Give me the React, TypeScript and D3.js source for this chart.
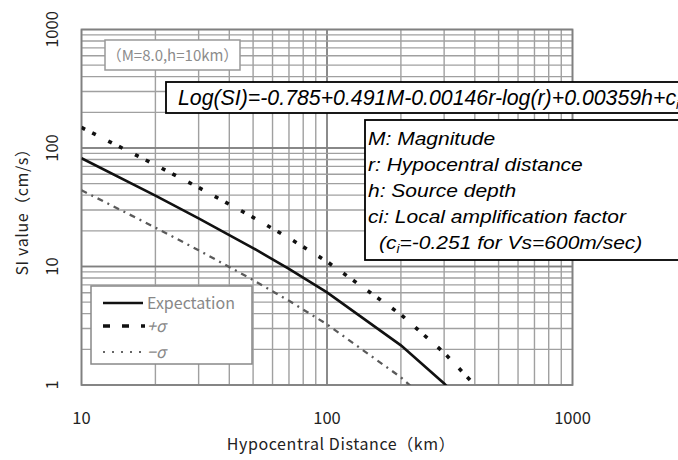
import React from "react";
import * as d3 from "d3";

const W = 678;
const H = 460;

// distances (km)
const distExp = [10, 20, 30, 50, 70, 100, 200, 300, 400];
const expectation = [82, 39.6, 25.5, 14.3, 9.56, 6.05, 2.16, 1.03, 0.55];

const distPlus = [10, 20, 30, 50, 70, 100, 200, 300, 400];
const plusSigma = [149, 72, 46.4, 26, 17.4, 11, 3.93, 1.87, 1.0];

const distMinus = [10, 20, 30, 50, 70, 100, 200, 300];
const minusSigma = [44, 21.3, 13.7, 7.7, 5.14, 3.25, 1.16, 0.55];

const xTicks = [10, 100, 1000];
const yTicks = [1, 10, 100, 1000];

const formulaText = "Log(SI)=-0.785+0.491M-0.00146r-log(r)+0.00359h+c";
const noteLines = [
  "M: Magnitude",
  "r: Hypocentral distance",
  "h: Source depth",
  "ci: Local amplification factor",
];
const conditionText = "（M=8.0,h=10km）";
const legendLabels = ["Expectation", "+σ", "−σ"];
const xTitle = "Hypocentral Distance（km）";
const yTitle = "SI value（cm/s）";

const JP = '"Noto Sans CJK JP", "Noto Sans", sans-serif';
const SANS = '"Liberation Sans", Arial, sans-serif';

export default function App() {
  const left = 81.5, right = 572.5, top = 29.5, bottom = 385;
  const x = d3.scaleLog().domain([10, 1000]).range([left, right]);
  const y = d3.scaleLog().domain([1, 1000]).range([bottom, top]);

  const gridX: number[] = [];
  for (const d of [10, 100]) for (let k = 1; k <= 10; k++) gridX.push(d * k);
  const gridY: number[] = [];
  for (const d of [1, 10, 100]) for (let k = 1; k <= 10; k++) gridY.push(d * k);

  const line = d3
    .line<[number, number]>()
    .x((d) => x(d[0]))
    .y((d) => y(d[1]));

  const expPts = distExp.map((r, i) => [r, expectation[i]] as [number, number]);
  const plusPts = distPlus.map((r, i) => [r, plusSigma[i]] as [number, number]);
  const minusPts = distMinus.map((r, i) => [r, minusSigma[i]] as [number, number]);

  const grid = "#a0a0a0";

  const plusDash = "4,8,4,14";
  const minusDash = "6,5,2,5";

  const legY = [303, 326, 352];

  return (
    <svg
      width={W}
      height={H}
      style={{ position: "absolute", left: 0, top: 0, background: "#fff" }}
    >
      <defs>
        <clipPath id="plotclip">
          <rect x={left} y={top} width={right - left} height={bottom - top} />
        </clipPath>
      </defs>
      <rect x={0} y={0} width={W} height={H} fill="#fff" />

      {/* grid */}
      {gridX.map((v, i) => (
        <line
          key={"gx" + i}
          x1={x(v)}
          x2={x(v)}
          y1={top}
          y2={bottom}
          stroke={v === 100 ? "#808080" : grid}
          strokeWidth={1.4}
        />
      ))}
      {gridY.map((v, i) => (
        <line
          key={"gy" + i}
          x1={left}
          x2={right}
          y1={y(v)}
          y2={y(v)}
          stroke={v === 10 || v === 100 ? "#808080" : grid}
          strokeWidth={1.4}
        />
      ))}
      <rect
        x={left}
        y={top}
        width={right - left}
        height={bottom - top}
        fill="none"
        stroke="#808080"
        strokeWidth={1.8}
      />

      {/* curves */}
      <g clipPath="url(#plotclip)">
        <path
          d={line(minusPts) || ""}
          fill="none"
          stroke="#5a5a5a"
          strokeWidth={2.3}
          strokeDasharray={minusDash}
        />
        <path
          d={line(plusPts) || ""}
          fill="none"
          stroke="#111"
          strokeWidth={3.6}
          strokeDasharray={plusDash}
        />
        <path d={line(expPts) || ""} fill="none" stroke="#111" strokeWidth={2.6} />
      </g>

      {/* condition box */}
      <rect x={105} y={40} width={135} height={30} fill="#fff" stroke="#999" strokeWidth={1.5} />
      <text x={172.5} y={60.5} textAnchor="middle" fontFamily={JP} fontSize={15} fill="#8c8c8c">
        {conditionText}
      </text>

      {/* legend */}
      <rect x={91} y={286} width={161} height={78} fill="#fff" stroke="#888" strokeWidth={1.5} />
      <line x1={103} x2={143} y1={legY[0]} y2={legY[0]} stroke="#111" strokeWidth={2.6} />
      <line
        x1={103}
        x2={145}
        y1={legY[1]}
        y2={legY[1]}
        stroke="#111"
        strokeWidth={3.5}
        strokeDasharray="7,12"
      />
      <line
        x1={103}
        x2={146}
        y1={legY[2]}
        y2={legY[2]}
        stroke="#666"
        strokeWidth={2.2}
        strokeDasharray="2,7"
      />
      {legendLabels.map((t, i) => (
        <text
          key={"lg" + i}
          x={147}
          y={legY[i] + 5.5}
          fontFamily={JP}
          fontSize={16}
          fill="#888"
          fontStyle={i > 0 ? "italic" : "normal"}
        >
          {t}
        </text>
      ))}

      {/* formula box */}
      <rect x={166} y={82} width={540} height={31} fill="#fff" stroke="#000" strokeWidth={1.8} />
      <text x={178} y={105} fontFamily={SANS} fontStyle="italic" fontSize={21.3} fill="#000">
        {formulaText}
        <tspan fontSize={13} dy={4}>i</tspan>
      </text>

      {/* note box */}
      <rect x={365} y={120} width={340} height={140} fill="#fff" stroke="#000" strokeWidth={1.8} />
      {noteLines.map((t, i) => (
        <text
          key={"nt" + i}
          transform={`translate(368,${145 + i * 26}) scale(1.13,1)`}
          fontFamily={SANS}
          fontStyle="italic"
          fontSize={18.6}
          fill="#000"
        >
          {t}
        </text>
      ))}
      <text
        transform={`translate(379,249) scale(1.13,1)`}
        fontFamily={SANS}
        fontStyle="italic"
        fontSize={18.6}
        fill="#000"
      >
        (c<tspan fontSize={12} dy={4}>i</tspan>
        <tspan dy={-4}>=-0.251 for Vs=600m/sec)</tspan>
      </text>

      {/* x tick labels */}
      {xTicks.map((v, i) => (
        <text
          key={"xt" + i}
          x={x(v)}
          y={424}
          textAnchor="middle"
          fontFamily={JP}
          fontSize={16.5}
          fill="#222"
        >
          {v}
        </text>
      ))}
      {/* y tick labels */}
      {yTicks.map((v, i) => (
        <text
          key={"yt" + i}
          transform={`translate(58,${y(v)}) rotate(-90)`}
          textAnchor="middle"
          fontFamily={JP}
          fontSize={16.5}
          fill="#222"
        >
          {v}
        </text>
      ))}

      {/* axis titles */}
      <text
        x={341}
        y={450}
        textAnchor="middle"
        fontFamily={JP}
        fontSize={16}
        letterSpacing={0.6}
        fill="#222"
      >
        {xTitle}
      </text>
      <text
        transform={`translate(28,208) rotate(-90)`}
        textAnchor="middle"
        fontFamily={JP}
        fontSize={16}
        letterSpacing={0.6}
        fill="#222"
      >
        {yTitle}
      </text>
    </svg>
  );
}
